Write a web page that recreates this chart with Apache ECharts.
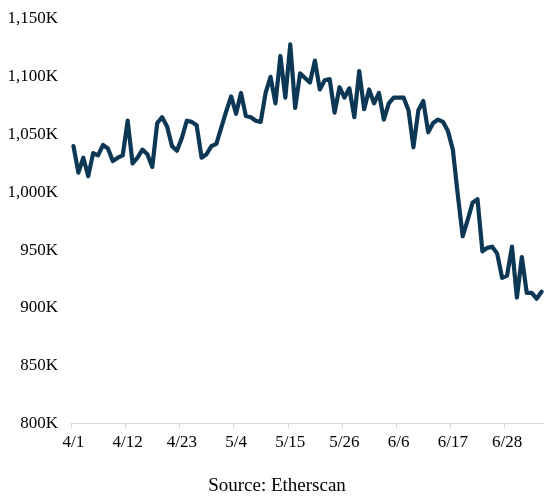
<!DOCTYPE html>
<html>
<head>
<meta charset="utf-8">
<script src="https://cdn.jsdelivr.net/npm/echarts@6/dist/echarts.min.js"></script>
<style>html,body{margin:0;padding:0;background:#fff;}#c{width:544px;height:496px;}</style>
</head>
<body>
<div id="c"></div>
<script>
const dates = [
'4/1','4/2','4/3','4/4','4/5','4/6','4/7','4/8','4/9','4/10','4/11','4/12','4/13','4/14','4/15','4/16','4/17','4/18','4/19','4/20','4/21','4/22','4/23','4/24','4/25','4/26','4/27','4/28','4/29','4/30',
'5/1','5/2','5/3','5/4','5/5','5/6','5/7','5/8','5/9','5/10','5/11','5/12','5/13','5/14','5/15','5/16','5/17','5/18','5/19','5/20','5/21','5/22','5/23','5/24','5/25','5/26','5/27','5/28','5/29','5/30','5/31',
'6/1','6/2','6/3','6/4','6/5','6/6','6/7','6/8','6/9','6/10','6/11','6/12','6/13','6/14','6/15','6/16','6/17','6/18','6/19','6/20','6/21','6/22','6/23','6/24','6/25','6/26','6/27','6/28','6/29','6/30',
'7/1','7/2','7/3','7/4','7/5'
];
// Active addresses, thousands
const addresses = [
1040,1017,1030,1014,1034,1032,1041,1038,1027,1030,1032,1062,1025,1030,1037,1033,1022,1060,1065,1057,
1040,1036,1047,1062,1061,1058,1030,1033,1040,1042,1056,1070,1083,1068,1086,1066,1065,1062,1061,1086,
1100,1077,1118,1082,1128,1073,1103,1099,1095,1114,1089,1097,1098,1069,1091,1082,1090,1065,1105,1072,
1089,1077,1086,1063,1077,1082,1082,1082,1071,1039,1071,1079,1052,1060,1063,1061,1053,1037,998,962,
976,991,994,949,952,953,947,926,928,953,909,944,913,913,908,914
];
const yMin = 800, yMax = 1150, yStep = 50;
const source = 'Source: Etherscan';

const chart = echarts.init(document.getElementById('c'), null, {renderer:'canvas'});
const serif = '"Liberation Serif","Times New Roman",serif';
chart.setOption({
  animation: false,
  backgroundColor: '#fff',
  grid: {left: 71, right: 0, top: 19, bottom: 72.5, containLabel: false},
  xAxis: {
    type: 'category',
    data: dates,
    boundaryGap: true,
    axisLine: {show: true, lineStyle: {color: '#d9d9d9', width: 1}},
    axisTick: {show: true, length: 5, interval: 10, lineStyle: {color: '#d9d9d9'}},
    axisLabel: {interval: 10, color: '#000', fontFamily: serif, fontSize: 17, margin: 11},
    splitLine: {show: false}
  },
  yAxis: {
    type: 'value',
    min: yMin, max: yMax, interval: yStep,
    axisLine: {show: false},
    axisTick: {show: false},
    splitLine: {show: false},
    axisLabel: {
      color: '#000', fontFamily: serif, fontSize: 17, margin: 13,
      formatter: v => v.toLocaleString('en-US') + 'K'
    }
  },
  series: [{
    type: 'line',
    data: addresses,
    showSymbol: false,
    symbol: 'none',
    smooth: false,
    lineStyle: {color: '#0c3755', width: 4.2, join: 'round', cap: 'round'}
  }],
  graphic: [{
    type: 'text',
    x: 277, y: 486,
    style: {text: source, fill: '#000', font: '19px ' + serif, textAlign: 'center', textVerticalAlign: 'middle'}
  }]
});
</script>
</body>
</html>
